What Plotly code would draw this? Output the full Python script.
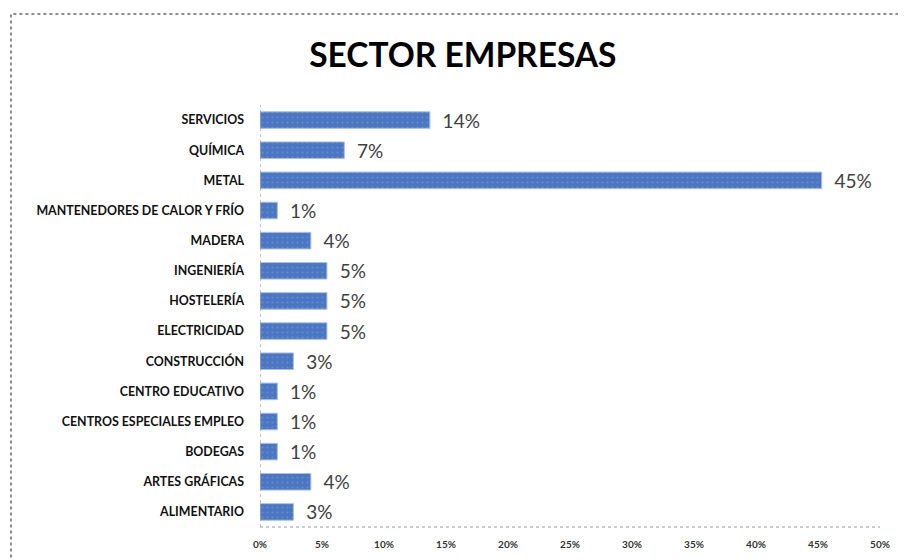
import plotly.graph_objects as go

categories = ["SERVICIOS", "QUÍMICA", "METAL", "MANTENEDORES DE CALOR Y FRÍO", "MADERA",
              "INGENIERÍA", "HOSTELERÍA", "ELECTRICIDAD", "CONSTRUCCIÓN", "CENTRO EDUCATIVO",
              "CENTROS ESPECIALES EMPLEO", "BODEGAS", "ARTES GRÁFICAS", "ALIMENTARIO"]
values = [13.7, 6.8, 45.3, 1.4, 4.1, 5.4, 5.4, 5.4, 2.7, 1.4, 1.4, 1.4, 4.1, 2.7]
x_ticks = [0, 5, 10, 15, 20, 25, 30, 35, 40, 45, 50]
x_tick_labels = [f"<b>{v}%</b>" for v in x_ticks]

fig = go.Figure()
fig.add_trace(go.Bar(
    x=values, y=categories, orientation="h",
    marker=dict(color="#4a76c2",
                line=dict(color="#a9c0e6", width=1),
                pattern=dict(shape=".", fgcolor="#7d9fd8", size=5, solidity=0.15)),
    width=0.55,
    text=[f"{v:.0f}%" for v in values],
    texttemplate="  %{text}",
    textposition="outside",
    constraintext="none",
    cliponaxis=False,
    textfont=dict(family="Lato", size=19, color="#404040"),
    outsidetextfont=dict(family="Lato", size=19, color="#404040"),
    hoverinfo="skip",
))

fig.update_layout(
    width=906, height=560,
    margin=dict(l=252, r=34, t=97, b=41),
    paper_bgcolor="white", plot_bgcolor="white",
    showlegend=False,
    title=dict(text="<b>SECTOR EMPRESAS</b>", x=0.502, xanchor="center",
               y=0.916, yanchor="middle",
               font=dict(family="Lato", size=33.5, color="#000000")),
    xaxis=dict(range=[0, 50], tickvals=x_ticks, ticktext=x_tick_labels,
               showgrid=False, zeroline=False, showline=False,
               ticks="", ticklabelstandoff=10,
               tickfont=dict(family="Lato", size=10, color="#333333"),
               fixedrange=True),
    yaxis=dict(categoryorder="array", categoryarray=categories[::-1],
               tickvals=categories, ticktext=[f"<b>{c}</b>" for c in categories],
               autorange=False, range=[-0.5, len(categories) - 0.5],
               showgrid=False, zeroline=False, showline=False, ticks="",
               ticklabelstandoff=15,
               tickfont=dict(family="Lato", size=12.4, color="#111111"),
               fixedrange=True),
    shapes=[
        dict(type="line", xref="x", yref="paper", x0=0, x1=0, y0=0, y1=1,
             line=dict(color="#9a9a9a", width=1.2, dash="dot")),
        dict(type="line", xref="paper", yref="paper", x0=0, x1=1, y0=0, y1=0,
             line=dict(color="#9a9a9a", width=1.2, dash="dot")),
        dict(type="rect", xref="paper", yref="paper",
             x0=(3 - 252) / 620, x1=1.1, y0=-0.2, y1=(519 - 6) / 422,
             line=dict(color="#8c8c8c", width=2, dash="dot")),
    ],
)

fig.write_html("out.html")
